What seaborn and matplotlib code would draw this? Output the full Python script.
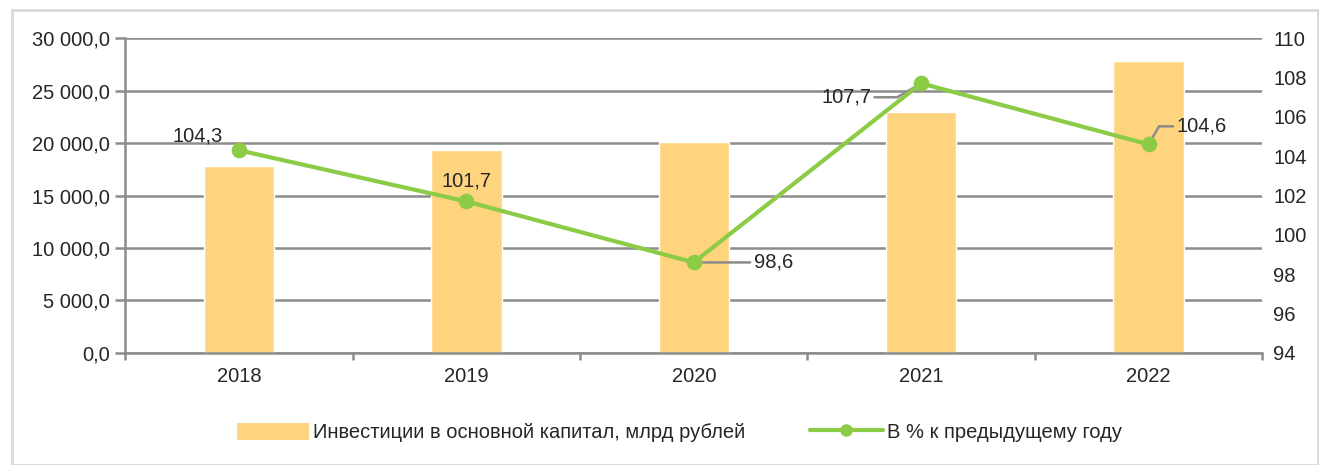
import matplotlib
matplotlib.use('Agg')
import matplotlib.pyplot as plt
import matplotlib.ticker as mticker
from matplotlib.patches import Patch, Rectangle
from matplotlib.lines import Line2D
import seaborn as sns
import pandas as pd

years = ['2018', '2019', '2020', '2021', '2022']
investments = [17782.0, 19329.0, 20118.4, 22945.4, 27866.1]
pct_prev_year = [104.3, 101.7, 98.6, 107.7, 104.6]
bar_label = 'Инвестиции в основной капитал, млрд рублей'
line_label = 'В % к предыдущему году'

BAR_COLOR = '#FFD47F'
LINE_COLOR = '#8CCB45'
GRID_COLOR = '#8C8C8C'
TEXT_COLOR = '#262626'
FS = 14.5

sns.set_theme(style='white')
plt.rcParams['font.family'] = ['Liberation Sans Narrow', 'Liberation Sans', 'DejaVu Sans']
plt.rcParams['axes.unicode_minus'] = False

df = pd.DataFrame({'year': years, 'inv': investments, 'pct': pct_prev_year})

fig = plt.figure(figsize=(13.19, 4.65), dpi=100)
fig.patches.append(Rectangle((0.009, 0.0), 0.99, 0.978, transform=fig.transFigure,
                             fill=False, edgecolor='#D9D9D9', linewidth=2.0))
ax = fig.add_axes([0.095, 0.241, 0.862, 0.677])

sns.barplot(data=df, x='year', y='inv', color=BAR_COLOR, saturation=1, width=0.31,
            ax=ax, zorder=2)
ax.set_ylim(0, 30000)
ax.set_xlim(-0.5, 4.5)
ax.yaxis.set_major_locator(mticker.MultipleLocator(5000))
ax.yaxis.set_major_formatter(mticker.FuncFormatter(
    lambda v, p: f'{v:,.1f}'.replace(',', ' ').replace('.', ',')))
ax.grid(axis='y', color=GRID_COLOR, linewidth=1.8, zorder=0)
ax.set_axisbelow(True)
for s in ['top', 'right']:
    ax.spines[s].set_visible(False)
ax.spines['left'].set_color(GRID_COLOR)
ax.spines['left'].set_linewidth(1.8)
ax.spines['bottom'].set_color(GRID_COLOR)
ax.spines['bottom'].set_linewidth(1.8)
ax.tick_params(axis='y', length=7, width=1.8, color=GRID_COLOR, labelsize=FS,
               labelcolor=TEXT_COLOR, pad=4, left=True)
ax.tick_params(axis='x', length=0, labelsize=FS, labelcolor=TEXT_COLOR, pad=10)
ax.set_xticks([i - 0.5 for i in range(6)], minor=True)
ax.tick_params(axis='x', which='minor', length=5, width=1.8, color=GRID_COLOR, bottom=True)
ax.set_xlabel('')
ax.set_ylabel('')

ax2 = ax.twinx()
sns.pointplot(data=df, x='year', y='pct', color=LINE_COLOR, markers='o',
              linewidth=3, markersize=9, ax=ax2, zorder=5)
ax2.set_xlim(-0.5, 4.5)
ax2.set_ylim(94, 110)
ax2.yaxis.set_major_locator(mticker.MultipleLocator(2))
ax2.tick_params(axis='y', length=0, labelsize=FS, labelcolor=TEXT_COLOR, pad=8)
for s in ax2.spines.values():
    s.set_visible(False)
ax2.set_ylabel('')
ax2.set_xlabel('')

def fmt(v):
    return f'{v:.1f}'.replace('.', ',')

lab_kw = dict(fontsize=FS, color=TEXT_COLOR)
leader = dict(arrowstyle='-', color=GRID_COLOR, lw=1.8, shrinkA=0, shrinkB=0)
ax2.annotate(fmt(pct_prev_year[0]), (0, pct_prev_year[0]), xytext=(-12, 10),
             textcoords='offset points', ha='right', va='center', **lab_kw)
ax2.annotate(fmt(pct_prev_year[1]), (1, pct_prev_year[1]), xytext=(0, 8),
             textcoords='offset points', ha='center', va='bottom', **lab_kw)
ax2.annotate(fmt(pct_prev_year[2]), (2, pct_prev_year[2]), xytext=(43, 0),
             textcoords='offset points', ha='left', va='center', **lab_kw,
             arrowprops=leader)
ax2.annotate(fmt(pct_prev_year[3]), (3, pct_prev_year[3]), xytext=(-36, -10),
             textcoords='offset points', ha='right', va='center', **lab_kw,
             arrowprops=dict(leader, connectionstyle='angle,angleA=0,angleB=30,rad=0'))
ax2.annotate(fmt(pct_prev_year[4]), (4, pct_prev_year[4]), xytext=(20, 13),
             textcoords='offset points', ha='left', va='center', **lab_kw,
             arrowprops=dict(leader, connectionstyle='angle,angleA=0,angleB=60,rad=0'))

handles = [Patch(facecolor=BAR_COLOR, edgecolor='none'),
           Line2D([0], [0], color=LINE_COLOR, lw=3, marker='o', markersize=8)]
fig.legend(handles, [bar_label, line_label], loc='center', bbox_to_anchor=(0.515, 0.07),
           ncol=2, frameon=False, fontsize=FS, handlelength=3.6, handleheight=0.9,
           columnspacing=3.2, handletextpad=0.2, labelcolor=TEXT_COLOR)

fig.savefig('out.png', dpi=100)
